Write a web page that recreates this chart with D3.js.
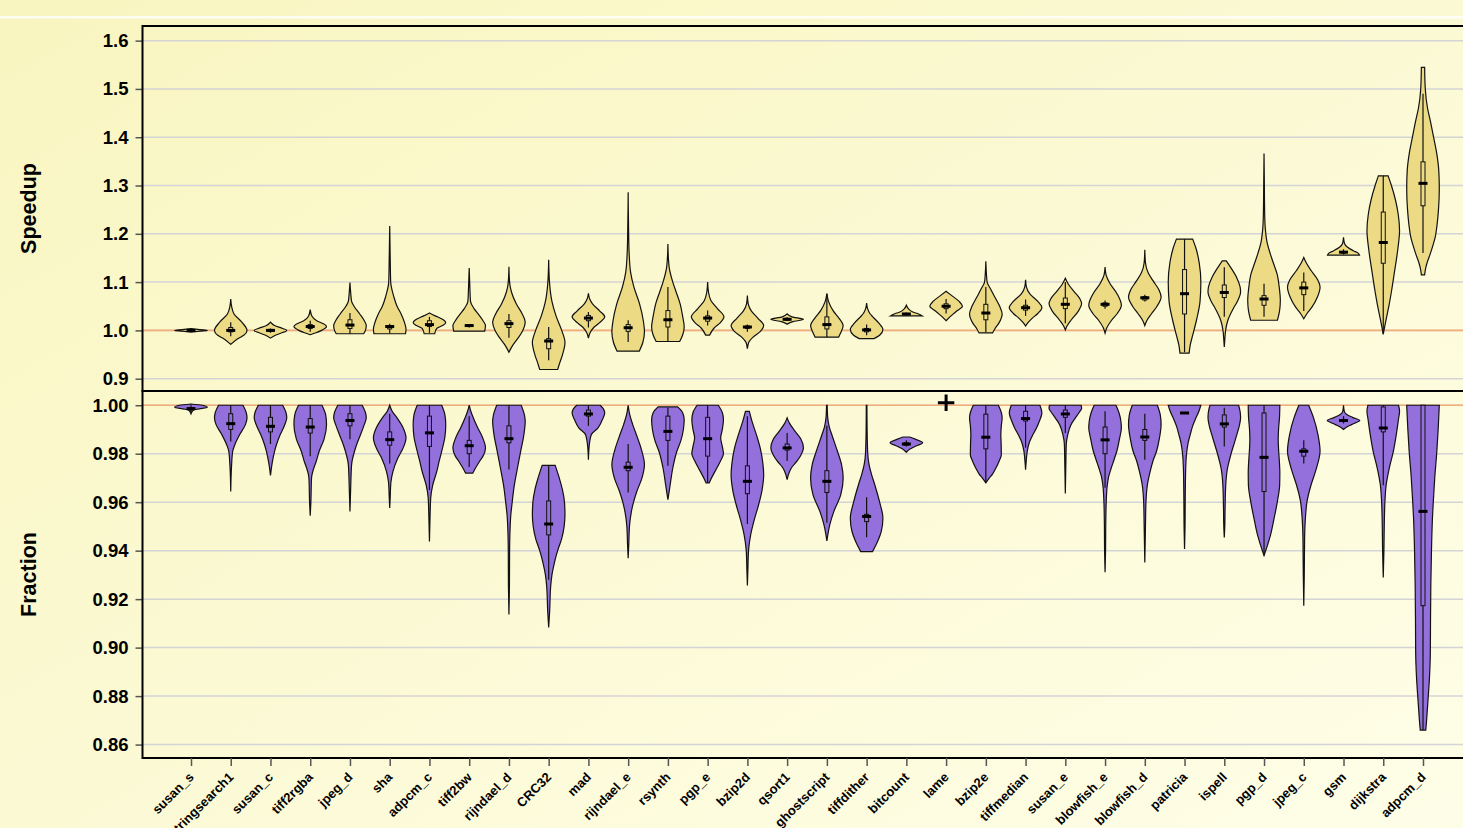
<!DOCTYPE html>
<html>
<head>
<meta charset="utf-8">
<script src="https://cdn.jsdelivr.net/npm/d3@7"></script>
<style>
  body { margin: 0; overflow: hidden; }
  svg text { font-family: "Liberation Sans", Arial, Helvetica, sans-serif; font-weight: bold; fill: #000; }
</style>
</head>
<body>
<div id="chart"></div>
<script>
// benchmarks in plot order
const benchmarks = ["susan_s", "stringsearch1", "susan_c", "tiff2rgba", "jpeg_d", "sha", "adpcm_c", "tiff2bw",
  "rijndael_d", "CRC32", "mad", "rijndael_e", "rsynth", "pgp_e", "bzip2d", "qsort1", "ghostscript", "tiffdither",
  "bitcount", "lame", "bzip2e", "tiffmedian", "susan_e", "blowfish_e", "blowfish_d", "patricia", "ispell", "pgp_d",
  "jpeg_c", "gsm", "dijkstra", "adpcm_d"]

const speedupTicks = [0.9, 1.0, 1.1, 1.2, 1.3, 1.4, 1.5, 1.6]
const fractionTicks = [0.86, 0.88, 0.90, 0.92, 0.94, 0.96, 0.98, 1.00]

// violin outlines: [value, relative width] read top to bottom
const speedupShapes = [
  [[1.0035,0],[1.0015,0.55],[1.0,1],[0.9985,0.55],[0.9965,0]],
  [[1.065,0],[1.05,0.05],[1.034,0.2],[1.017,0.68],[1.0,1],[0.99,0.8],[0.983,0.45],[0.971,0]],
  [[1.017,0],[1.01,0.25],[1.004,0.75],[1.0,1],[0.995,0.7],[0.99,0.3],[0.984,0]],
  [[1.043,0],[1.03,0.1],[1.02,0.4],[1.012,0.9],[1.008,1],[1.0,0.7],[0.995,0.35],[0.991,0]],
  [[1.099,0],[1.08,0.04],[1.06,0.1],[1.05,0.25],[1.034,0.6],[1.02,0.88],[1.01,1],[1.0,0.95],[0.993,0.84]],
  [[1.216,0],[1.15,0.03],[1.1,0.06],[1.07,0.25],[1.05,0.45],[1.034,0.7],[1.015,0.92],[1.003,1],[0.993,0.97]],
  [[1.036,0],[1.03,0.35],[1.022,0.85],[1.016,1],[1.01,0.8],[1.004,0.45],[0.993,0.32]],
  [[1.129,0],[1.09,0.04],[1.06,0.08],[1.045,0.3],[1.034,0.55],[1.02,0.85],[1.01,1],[0.9985,0.95]],
  [[1.132,0],[1.1,0.04],[1.08,0.15],[1.055,0.45],[1.035,0.8],[1.017,1],[1.0,0.85],[0.986,0.6],[0.97,0.25],[0.955,0]],
  [[1.146,0],[1.1,0.05],[1.06,0.2],[1.03,0.45],[1.0,0.8],[0.975,1],[0.95,0.85],[0.93,0.65],[0.919,0.55]],
  [[1.077,0],[1.065,0.08],[1.055,0.25],[1.04,0.7],[1.028,1],[1.015,0.65],[1.005,0.3],[0.995,0.1],[0.984,0]],
  [[1.286,0],[1.2,0.03],[1.16,0.06],[1.12,0.15],[1.09,0.35],[1.055,0.7],[1.02,0.93],[0.997,1],[0.975,0.9],[0.957,0.68]],
  [[1.179,0],[1.15,0.03],[1.13,0.08],[1.1,0.3],[1.08,0.5],[1.055,0.75],[1.03,0.9],[1.007,1],[0.99,0.9],[0.977,0.72]],
  [[1.1,0],[1.08,0.05],[1.062,0.2],[1.045,0.6],[1.028,1],[1.015,0.75],[1.005,0.4],[0.99,0.12]],
  [[1.072,0],[1.055,0.05],[1.04,0.25],[1.025,0.65],[1.01,1],[0.998,0.8],[0.986,0.35],[0.975,0.08],[0.962,0]],
  [[1.034,0],[1.028,0.3],[1.023,1],[1.018,0.35],[1.013,0]],
  [[1.076,0],[1.06,0.1],[1.041,0.38],[1.025,0.75],[1.01,1],[0.995,0.85],[0.986,0.72]],
  [[1.0565,0],[1.045,0.06],[1.035,0.2],[1.028,0.38],[1.015,0.75],[1.002,1],[0.99,0.8],[0.983,0.45]],
  [[1.052,0],[1.045,0.12],[1.038,0.4],[1.034,0.75],[1.03,0.98]],
  [[1.081,0],[1.072,0.35],[1.06,0.8],[1.05,1],[1.04,0.65],[1.03,0.3],[1.02,0]],
  [[1.143,0],[1.12,0.03],[1.1,0.08],[1.085,0.3],[1.069,0.55],[1.05,0.85],[1.034,1],[1.015,0.8],[1.003,0.55],[0.995,0.42]],
  [[1.105,0],[1.09,0.05],[1.076,0.25],[1.06,0.75],[1.047,1],[1.035,0.75],[1.025,0.4],[1.015,0.12],[1.009,0]],
  [[1.108,0],[1.095,0.2],[1.08,0.55],[1.065,0.9],[1.055,1],[1.04,0.8],[1.021,0.35],[1.01,0.12],[1.001,0]],
  [[1.131,0],[1.115,0.06],[1.097,0.3],[1.075,0.75],[1.052,1],[1.035,0.75],[1.021,0.4],[1.005,0.1],[0.9945,0]],
  [[1.167,0],[1.14,0.04],[1.12,0.2],[1.103,0.5],[1.085,0.85],[1.069,1],[1.05,0.75],[1.034,0.4],[1.02,0.12],[1.01,0]],
  [[1.189,0.5],[1.17,0.7],[1.14,0.9],[1.1,1],[1.06,0.95],[1.021,0.73],[0.99,0.5],[0.97,0.35],[0.953,0.28]],
  [[1.144,0.12],[1.13,0.4],[1.11,0.75],[1.09,0.97],[1.08,1],[1.06,0.8],[1.045,0.55],[1.021,0.22],[1.0,0.08],[0.98,0.03],[0.9655,0]],
  [[1.3665,0],[1.3,0.02],[1.24,0.04],[1.21,0.08],[1.18,0.2],[1.159,0.38],[1.137,0.6],[1.117,0.8],[1.09,0.93],[1.062,1],[1.04,0.95],[1.021,0.82]],
  [[1.151,0],[1.14,0.15],[1.124,0.45],[1.105,0.85],[1.09,1],[1.07,0.85],[1.048,0.5],[1.035,0.2],[1.024,0]],
  [[1.193,0],[1.18,0.06],[1.172,0.25],[1.165,0.6],[1.16,0.9],[1.156,0.98]],
  [[1.32,0.3],[1.3,0.5],[1.27,0.75],[1.24,0.92],[1.207,1],[1.17,0.9],[1.117,0.67],[1.08,0.5],[1.055,0.37],[1.03,0.22],[1.01,0.1],[0.992,0]],
  [[1.5445,0.1],[1.5,0.14],[1.46,0.28],[1.434,0.45],[1.4,0.65],[1.365,0.85],[1.33,0.97],[1.293,1],[1.25,0.95],[1.215,0.85],[1.193,0.75],[1.175,0.6],[1.159,0.45],[1.14,0.25],[1.125,0.14],[1.115,0.1]]
]

// [whisker low, q1, median, q3, whisker high]
const speedupBoxes = [
  [0.999,0.9995,1.0,1.0005,1.001], [0.988,0.997,1.0,1.006,1.017], [0.995,0.998,1.0,1.002,1.004],
  [0.997,1.004,1.008,1.012,1.02], [0.993,1.004,1.011,1.022,1.036], [0.994,1.003,1.008,1.01,1.014],
  [0.995,1.008,1.012,1.02,1.028], [1.006,1.008,1.01,1.011,1.012], [0.985,1.006,1.014,1.02,1.034],
  [0.938,0.962,0.978,0.983,1.007], [1.006,1.02,1.0255,1.031,1.038], [0.976,0.998,1.0055,1.012,1.021],
  [0.977,1.007,1.022,1.041,1.09], [1.01,1.019,1.0255,1.03,1.041], [0.997,1.004,1.007,1.009,1.012],
  [1.02,1.021,1.023,1.025,1.027], [0.986,1.003,1.012,1.028,1.076], [0.99,0.997,1.001,1.004,1.012],
  [1.031,1.033,1.034,1.035,1.037], [1.035,1.045,1.05,1.055,1.065], [0.996,1.022,1.036,1.054,1.09],
  [1.03,1.042,1.047,1.052,1.064], [1.015,1.045,1.054,1.067,1.1], [1.045,1.05,1.054,1.057,1.062],
  [1.06,1.063,1.0675,1.07,1.074], [0.955,1.034,1.076,1.126,1.189], [1.028,1.068,1.0785,1.094,1.131],
  [1.028,1.052,1.065,1.072,1.0965], [1.04,1.074,1.088,1.1,1.12], [1.157,1.16,1.162,1.163,1.168],
  [0.992,1.139,1.182,1.245,1.32], [1.16,1.258,1.3045,1.349,1.49]
]

const fractionShapes = [
  [[1.0005,0],[1.0,0.7],[0.9992,1],[0.9985,0.5],[0.998,0.15],[0.9965,0]],
  [[1.0,0.75],[0.997,0.95],[0.9948,1],[0.992,0.9],[0.9879,0.55],[0.9837,0.25],[0.981,0.12],[0.975,0.05],[0.9644,0]],
  [[1.0,0.75],[0.997,0.95],[0.9948,1],[0.9915,0.85],[0.9879,0.6],[0.984,0.38],[0.981,0.25],[0.976,0.1],[0.971,0]],
  [[1.0,0.72],[0.996,0.95],[0.992,1],[0.986,0.85],[0.981,0.55],[0.9765,0.35],[0.9741,0.22],[0.97,0.08],[0.96,0.04],[0.9544,0]],
  [[1.0,0.75],[0.997,0.95],[0.9948,1],[0.9915,0.85],[0.9879,0.65],[0.9845,0.45],[0.981,0.28],[0.9755,0.1],[0.965,0.04],[0.9562,0]],
  [[1.0,0],[0.9975,0.15],[0.9948,0.45],[0.991,0.8],[0.9865,1],[0.982,0.8],[0.9782,0.5],[0.9727,0.2],[0.968,0.07],[0.962,0.03],[0.9576,0]],
  [[1.0,0.75],[0.996,0.95],[0.992,1],[0.987,0.95],[0.981,0.75],[0.977,0.6],[0.9727,0.45],[0.967,0.2],[0.962,0.08],[0.955,0.04],[0.9438,0]],
  [[1.0,0],[0.9975,0.1],[0.9948,0.25],[0.991,0.5],[0.987,0.8],[0.9824,1],[0.979,0.85],[0.977,0.65],[0.974,0.38],[0.972,0.22]],
  [[1.0,0.75],[0.996,0.95],[0.9934,1],[0.988,0.92],[0.981,0.72],[0.974,0.52],[0.967,0.33],[0.96,0.2],[0.9534,0.1],[0.94,0.04],[0.925,0.03],[0.9137,0]],
  [[0.9752,0.4],[0.97,0.65],[0.965,0.85],[0.96,0.97],[0.9548,1],[0.95,0.95],[0.945,0.8],[0.94,0.55],[0.935,0.35],[0.93,0.2],[0.925,0.12],[0.915,0.06],[0.9083,0]],
  [[1.0,0.72],[0.9985,0.92],[0.9968,1],[0.994,0.85],[0.9906,0.58],[0.9879,0.18],[0.984,0.06],[0.9775,0]],
  [[1.0,0],[0.996,0.1],[0.992,0.28],[0.9879,0.5],[0.982,0.8],[0.9755,1],[0.97,0.85],[0.9644,0.53],[0.96,0.33],[0.9562,0.2],[0.95,0.08],[0.943,0.04],[0.9369,0]],
  [[0.9993,0.6],[0.997,0.9],[0.994,1],[0.99,0.95],[0.9855,0.8],[0.981,0.55],[0.9741,0.3],[0.9672,0.14],[0.961,0]],
  [[1.0,0.65],[0.997,0.9],[0.994,0.97],[0.99,0.9],[0.9865,0.8],[0.983,0.9],[0.98,0.97],[0.9765,0.75],[0.9727,0.45],[0.9695,0.2],[0.968,0.1]],
  [[0.9975,0.12],[0.993,0.3],[0.9879,0.55],[0.982,0.8],[0.976,0.95],[0.9713,1],[0.965,0.9],[0.958,0.65],[0.9534,0.45],[0.9465,0.2],[0.94,0.07],[0.932,0.03],[0.9256,0]],
  [[0.9948,0],[0.9925,0.15],[0.9893,0.48],[0.986,0.85],[0.9824,1],[0.9795,0.85],[0.9769,0.6],[0.9745,0.3],[0.9727,0.15],[0.9693,0]],
  [[1.0,0.02],[0.995,0.05],[0.991,0.15],[0.9879,0.3],[0.981,0.65],[0.9755,0.9],[0.97,1],[0.963,0.85],[0.9562,0.43],[0.9507,0.18],[0.947,0.07],[0.944,0]],
  [[1.0,0.02],[0.99,0.03],[0.98,0.07],[0.9755,0.15],[0.9715,0.3],[0.9672,0.5],[0.96,0.8],[0.9534,1],[0.948,0.9],[0.945,0.75],[0.942,0.55],[0.9396,0.36]],
  [[0.9869,0.2],[0.986,0.55],[0.9845,1],[0.9832,0.6],[0.982,0.25],[0.9806,0]],
  null,
  [[1.0,0.77],[0.997,0.95],[0.9948,1],[0.9915,0.95],[0.9879,0.92],[0.984,0.94],[0.9796,0.95],[0.977,0.82],[0.9741,0.62],[0.9715,0.4],[0.97,0.22],[0.968,0]],
  [[1.0,0.88],[0.9968,1],[0.9935,0.85],[0.9906,0.67],[0.9875,0.42],[0.985,0.25],[0.981,0.1],[0.977,0.04],[0.9734,0]],
  [[1.0,0.97],[0.9988,1],[0.997,0.85],[0.9948,0.62],[0.992,0.35],[0.9879,0.15],[0.984,0.06],[0.975,0.03],[0.9636,0]],
  [[1.0,0.67],[0.997,0.85],[0.9935,0.97],[0.9906,1],[0.986,0.88],[0.981,0.72],[0.9775,0.55],[0.9741,0.38],[0.9705,0.22],[0.9672,0.14],[0.96,0.07],[0.95,0.04],[0.94,0.03],[0.9311,0]],
  [[1.0,0.77],[0.996,0.95],[0.992,1],[0.9865,0.9],[0.981,0.72],[0.977,0.5],[0.9727,0.33],[0.9672,0.16],[0.96,0.07],[0.95,0.04],[0.9351,0]],
  [[1.0,1],[0.9975,0.88],[0.9948,0.7],[0.9915,0.5],[0.9879,0.35],[0.9845,0.22],[0.981,0.14],[0.9741,0.07],[0.96,0.04],[0.95,0.03],[0.9407,0]],
  [[1.0,0.88],[0.997,0.98],[0.9948,1],[0.9915,0.92],[0.9879,0.77],[0.9845,0.62],[0.981,0.46],[0.9775,0.32],[0.9741,0.2],[0.9672,0.09],[0.958,0.05],[0.95,0.03],[0.9454,0]],
  [[1.0,0.97],[0.995,0.95],[0.99,0.89],[0.986,0.87],[0.982,0.89],[0.978,0.93],[0.972,0.97],[0.9672,0.96],[0.9603,0.82],[0.9534,0.62],[0.9465,0.4],[0.942,0.2],[0.938,0]],
  [[1.0,0.3],[0.9975,0.45],[0.9948,0.6],[0.9879,0.87],[0.981,1],[0.977,0.9],[0.9727,0.72],[0.9672,0.45],[0.9603,0.2],[0.9534,0.1],[0.945,0.05],[0.93,0.03],[0.9173,0]],
  [[1.0,0],[0.9975,0.05],[0.9962,0.2],[0.995,0.55],[0.9937,1],[0.9928,0.75],[0.992,0.5],[0.991,0.2],[0.99,0]],
  [[1.0,0.94],[0.9975,1],[0.994,0.93],[0.9879,0.8],[0.981,0.62],[0.9741,0.37],[0.9672,0.18],[0.96,0.1],[0.9534,0.07],[0.94,0.04],[0.9289,0]],
  [[1.0,1],[0.99,0.93],[0.981,0.85],[0.97,0.72],[0.96,0.63],[0.9534,0.58],[0.94,0.52],[0.9258,0.48],[0.91,0.46],[0.898,0.45],[0.888,0.4],[0.8777,0.3],[0.87,0.22],[0.866,0.17]]
]

const fractionBoxes = [
  [0.997,0.998,0.9986,0.999,1.0], [0.985,0.99,0.9924,0.9965,1.0], [0.984,0.989,0.9913,0.995,1.0],
  [0.979,0.9885,0.991,0.9945,1.0], [0.986,0.9915,0.9937,0.9965,1.0], [0.976,0.9835,0.9858,0.989,0.9965],
  [0.965,0.983,0.9886,0.9955,1.0], [0.9745,0.98,0.9833,0.9855,0.9955], [0.9735,0.9845,0.9862,0.9915,1.0],
  [0.928,0.9465,0.951,0.9605,0.9752], [0.9915,0.9955,0.9964,0.998,1.0], [0.964,0.973,0.9744,0.9765,0.984],
  [0.975,0.9855,0.9892,0.9955,0.999], [0.968,0.979,0.9862,0.995,1.0], [0.951,0.9635,0.9686,0.975,0.9955],
  [0.977,0.9815,0.9824,0.984,0.9885], [0.9515,0.964,0.9686,0.973,0.9915], [0.9455,0.952,0.9541,0.955,0.962],
  [0.983,0.9835,0.984,0.9845,0.9855], null, [0.968,0.982,0.9868,0.9963,1.0],
  [0.9825,0.9935,0.9945,0.9975,1.0], [0.9885,0.995,0.9964,0.998,1.0], [0.966,0.98,0.9857,0.991,0.9975],
  [0.9775,0.9855,0.9869,0.99,0.9965], [0.9966,0.9966,0.9968,0.997,0.997], [0.983,0.991,0.9923,0.996,0.999],
  [0.938,0.9644,0.9785,0.9968,1.0], [0.976,0.979,0.981,0.982,0.9855], [0.9925,0.9933,0.9937,0.994,0.9955],
  [0.967,0.989,0.9906,0.9993,1.0], [0.866,0.9173,0.9562,1.0,1.0]
]

// lone outlier marker (no violin for lame)
const fractionMarks = [{name: "lame", value: 1.001}]

const width = 1463, height = 828
const left = 142.5
const topPanel = {top: 26, bottom: 391}
const botPanel = {top: 391, bottom: 758}

const svg = d3.select("#chart").append("svg")
  .attr("width", width)
  .attr("height", height)

// pale yellow slide background
const defs = svg.append("defs")
const grad = defs.append("linearGradient").attr("id", "bg")
  .attr("x1", 0).attr("y1", 0).attr("x2", 1).attr("y2", 1)
grad.append("stop").attr("offset", "0%").attr("stop-color", "#f9f5c0")
grad.append("stop").attr("offset", "100%").attr("stop-color", "#fefee8")
svg.append("rect").attr("width", width).attr("height", height).attr("fill", "url(#bg)")
svg.append("rect").attr("x", 0).attr("y", 16).attr("width", width).attr("height", 2.5)
  .attr("fill", "#fff").attr("opacity", 0.8)

const x = d3.scalePoint()
  .domain(benchmarks)
  .range([191, 1423])
const right = x.range()[1] + (x.range()[0] - left)
const halfW = x.step() * 0.41

const ySpeed = d3.scaleLinear().domain([0.8745, 1.6303]).range([topPanel.bottom, topPanel.top])
const yFrac = d3.scaleLinear().domain([0.85446, 1.00587]).range([botPanel.bottom, botPanel.top])

function drawPanel(y, ticks, fmt, shapes, boxes, fill, label, panel) {
  const g = svg.append("g")

  // grid
  g.selectAll(".grid").data(ticks).enter().append("line")
    .attr("x1", left).attr("x2", right)
    .attr("y1", d => y(d)).attr("y2", d => y(d))
    .attr("stroke", "#d4d3d6").attr("stroke-width", 1.5)

  // reference line at 1
  g.append("line")
    .attr("x1", left).attr("x2", right)
    .attr("y1", y(1)).attr("y2", y(1))
    .attr("stroke", "#f2ae76").attr("stroke-width", 1.6)

  const items = benchmarks.map((b, i) => ({name: b, shape: shapes[i], box: boxes[i]})).filter(d => d.shape)

  const violins = g.selectAll(".violin").data(items).enter().append("g")

  violins.append("path")
    .attr("d", d => {
      const cx = x(d.name)
      return d3.area()
        .curve(d3.curveMonotoneY)
        .y(p => y(p[0]))
        .x0(p => cx - p[1] * halfW)
        .x1(p => cx + p[1] * halfW)(d.shape)
    })
    .attr("fill", fill)
    .attr("stroke", "#111")
    .attr("stroke-width", 1.2)

  // whisker
  violins.append("line")
    .attr("x1", d => x(d.name)).attr("x2", d => x(d.name))
    .attr("y1", d => y(d.box[0])).attr("y2", d => y(d.box[4]))
    .attr("stroke", "#111").attr("stroke-width", 1.2)
  // box
  violins.append("rect")
    .attr("x", d => x(d.name) - 2)
    .attr("width", 4)
    .attr("y", d => y(d.box[3]))
    .attr("height", d => Math.max(0.5, y(d.box[1]) - y(d.box[3])))
    .attr("fill", fill)
    .attr("stroke", "#111").attr("stroke-width", 1)
  // median
  violins.append("rect")
    .attr("x", d => x(d.name) - 4.5)
    .attr("width", 9)
    .attr("y", d => y(d.box[2]) - 1.5)
    .attr("height", 3)
    .attr("fill", "#000")

  // left axis
  const axis = g.append("g")
    .attr("transform", "translate(" + left + ",0)")
    .call(d3.axisLeft(y).tickValues(ticks).tickFormat(d3.format(fmt)).tickSize(7).tickPadding(7))
  axis.select(".domain").remove()
  axis.selectAll(".tick line").attr("stroke", "#555").attr("stroke-width", 1.5)
  axis.selectAll(".tick text").style("font-size", "18.5px")

  g.append("text")
    .attr("transform", "translate(36," + ((panel.top + panel.bottom) / 2) + ") rotate(-90)")
    .style("text-anchor", "middle")
    .style("font-size", "21.5px")
    .text(label)

  // frame
  g.append("rect")
    .attr("x", left).attr("y", panel.top)
    .attr("width", right - left).attr("height", panel.bottom - panel.top)
    .attr("fill", "none").attr("stroke", "#000").attr("stroke-width", 2)
  return g
}

drawPanel(ySpeed, speedupTicks, ".1f", speedupShapes, speedupBoxes, "#ecdb84", "Speedup", topPanel)
const bottom = drawPanel(yFrac, fractionTicks, ".2f", fractionShapes, fractionBoxes, "#9370db", "Fraction", botPanel)

// plus marker
fractionMarks.forEach(m => {
  bottom.append("path")
    .attr("d", d3.symbol(d3.symbolPlus, 90)())
    .attr("transform", "translate(" + x(m.name) + "," + yFrac(m.value) + ")")
    .attr("fill", "none").attr("stroke", "#000").attr("stroke-width", 3)
})

// x axis with slanted names
const xAxis = svg.append("g")
  .attr("transform", "translate(0," + botPanel.bottom + ")")
  .call(d3.axisBottom(x).tickSize(8).tickPadding(0))
xAxis.select(".domain").remove()
xAxis.selectAll(".tick line").attr("stroke", "#555").attr("stroke-width", 1.5)
xAxis.selectAll(".tick text")
  .attr("y", 0).attr("dy", 0)
  .attr("transform", "translate(3,20) rotate(-45)")
  .style("text-anchor", "end")
  .style("font-size", "13px")
</script>
</body>
</html>
